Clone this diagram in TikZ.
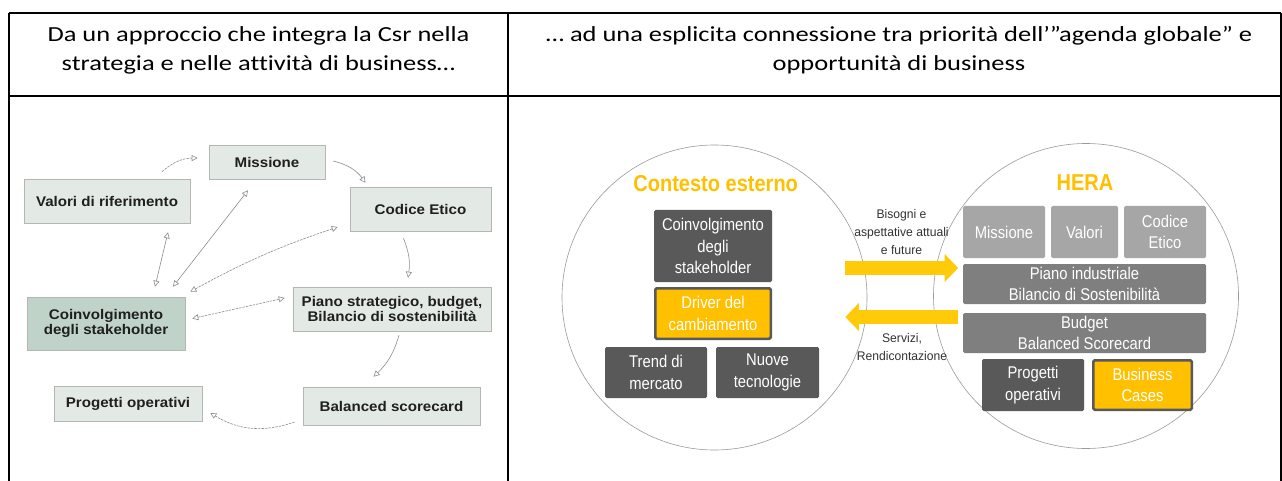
\documentclass[tikz,border=0pt]{standalone}
\usepackage{fontspec}
\setmainfont{Carlito}
\newfontfamily\hdrfont[FakeStretch=1.23,Ligatures=NoCommon]{Carlito}
\newfontfamily\lftfont[FakeStretch=1.08]{Liberation Sans}
\newfontfamily\rgtfont[FakeStretch=0.87]{Liberation Sans}
\newfontfamily\lblfont[FakeStretch=0.97]{Liberation Sans}
\usetikzlibrary{arrows.meta,shadows,calc}
\definecolor{orng}{HTML}{FFC000}
\definecolor{yarrow}{HTML}{FFCA08}
\definecolor{dgray}{HTML}{595959}
\definecolor{mgray}{HTML}{7F7F7F}
\definecolor{lgray}{HTML}{A6A6A6}
\definecolor{lboxfill}{HTML}{E3E9E4}
\definecolor{lboxdark}{HTML}{C0D3C8}
\definecolor{lboxline}{HTML}{B3B6B3}
\definecolor{larrcol}{HTML}{8C8C8C}
\definecolor{circcol}{HTML}{9A9A9A}
\tikzset{
  ohead/.tip={Triangle[open,length=6pt,width=6pt]},
  tbl/.style={line width=1.6pt, black},
  hdr/.style={align=center, font=\hdrfont\fontsize{21.5}{29}\selectfont, inner sep=0pt},
  lbox/.style={draw=lboxline, fill=lboxfill, line width=0.6pt, align=center,
    font=\lftfont\bfseries\fontsize{14}{15.5}\selectfont, text=black!88, inner sep=0pt,
    drop shadow={shadow xshift=1.2pt, shadow yshift=-1.2pt, fill=black!30, opacity=0.6}},
  larr/.style={draw=larrcol, line width=0.6pt, -ohead},
  larrb/.style={draw=larrcol, line width=0.6pt, ohead-ohead},
  fine/.style={dash pattern=on 2.5pt off 1pt},
  circ/.style={circle, draw=circcol, line width=0.6pt, inner sep=0pt, minimum size=305pt},
  ttl/.style={font=\rgtfont\bfseries\fontsize{23}{26}\selectfont, text=orng, inner sep=0pt},
  rbox/.style={rounded corners=1.5pt, inner sep=0pt, align=center, text=white,
    font=\rgtfont\fontsize{17}{21.5}\selectfont},
  obox/.style={rbox, fill=orng, draw=dgray, line width=2.5pt},
  lbl/.style={font=\lblfont\fontsize{12.5}{18}\selectfont, text=black!80, align=center, inner sep=0pt},
  fatarr/.style={yarrow, line width=13.5pt, -{Triangle[length=13.5pt,width=27pt]}}
}
\begin{document}
\begin{tikzpicture}[x=1pt,y=1pt]
\useasboundingbox (0,0) rectangle (1282,-481);
\fill[white] (0,0) rectangle (1282,-481);
% table
\draw[tbl] (9,-13) -- (1281,-13);
\draw[tbl] (9,-96) -- (1281,-96);
\draw[tbl] (9,-13) -- (9,-482);
\draw[tbl] (508,-13) -- (508,-482);
\draw[tbl] (1281,-13) -- (1281,-482);
\node[hdr] (hl) at (258.5,-50) {Da un approccio che integra la Csr nella\\strategia e nelle attività di business…};
\node[hdr] (hr) at (899,-50) {… ad una esplicita connessione tra priorità dell’”agenda globale” e\\opportunità di business};
% left diagram
\node[lbox, minimum width=166pt, minimum height=44pt] (valori) at (107,-201) {Valori di riferimento};
\node[lbox, minimum width=116pt, minimum height=34pt] (missione) at (267,-162) {Missione};
\node[lbox, minimum width=141pt, minimum height=44pt] (codice) at (420.5,-209) {Codice Etico};
\node[lbox, fill=lboxdark, minimum width=158pt, minimum height=53pt] (coinv) at (106,-323.5) {Coinvolgimento\\degli stakeholder};
\node[lbox, minimum width=198pt, minimum height=44pt] (piano) at (392,-309) {Piano strategico, budget,\\Bilancio di sostenibilità};
\node[lbox, minimum width=148pt, minimum height=35pt] (progetti) at (128,-403.5) {Progetti operativi};
\node[lbox, minimum width=177pt, minimum height=38pt] (balanced) at (391.5,-406) {Balanced scorecard};
\draw[larr, fine] ([xshift=55pt,yshift=7pt]valori.north) to[bend left=20] ([xshift=-11pt,yshift=4pt]missione.west);
\draw[larr] ([xshift=8pt,yshift=1pt]missione.east) to[bend left=20] ([xshift=-55pt,yshift=4pt]codice.north);
\draw[larr] ([xshift=-17pt,yshift=-7pt]codice.south) to[bend left=15] ([xshift=16pt,yshift=9pt]piano.north);
\draw[larr] ([xshift=7pt,yshift=-4pt]piano.south) to[bend left=15] ([xshift=-18pt,yshift=10pt]balanced.north);
\draw[larr, fine] ([xshift=-8pt,yshift=-16pt]balanced.west) to[bend left=25] ([xshift=8pt,yshift=-9.5pt]progetti.east);
\draw[larrb, fine] ([xshift=7pt,yshift=5pt]coinv.east) -- ([xshift=-8pt,yshift=11pt]piano.west);
\draw[larrb] ([xshift=61pt,yshift=-9pt]valori.south) -- ([xshift=49pt,yshift=10pt]coinv.north);
\draw[larrb] ([xshift=67pt,yshift=10pt]coinv.north) -- ([xshift=-19pt,yshift=-11pt]missione.south);
\draw[larrb, fine] ([xshift=5pt,yshift=5pt]coinv.north east) to[bend left=5] ([xshift=-12pt,yshift=-18pt]codice.west);
% right diagram
\node[circ] (ctx) at (714.5,-297.5) {};
\node[circ] (hera) at (1086,-296) {};
\node[ttl] (ctxt) at (715.7,-183.3) {Contesto esterno};
\node[ttl] (herat) at (1085,-183) {HERA};
\node[rbox, fill=dgray, minimum width=118pt, minimum height=72pt] (coinvs) at (713,-246) {Coinvolgimento\\degli\\stakeholder};
\node[obox, minimum width=115.5pt, minimum height=50.5pt] (driver) at (713,-313.5) {Driver del\\cambiamento};
\node[rbox, fill=dgray, minimum width=102pt, minimum height=51pt] (trend) at (656,-372.5) {Trend di\\mercato};
\node[rbox, fill=dgray, minimum width=103pt, minimum height=51pt] (nuove) at (767.5,-372.5) {Nuove\\tecnologie};
\node[rbox, fill=lgray, minimum width=82pt, minimum height=52pt] (missr) at (1004,-232) {Missione};
\node[rbox, fill=lgray, minimum width=67pt, minimum height=52pt] (valorir) at (1084.5,-232) {Valori};
\node[rbox, fill=lgray, minimum width=82pt, minimum height=52pt] (codicer) at (1165,-232) {Codice\\Etico};
\node[rbox, fill=mgray, minimum width=243pt, minimum height=40pt] (pianor) at (1084.5,-284) {Piano industriale\\Bilancio di Sostenibilità};
\node[rbox, fill=mgray, minimum width=243pt, minimum height=40pt] (budgetr) at (1084.5,-333) {Budget\\Balanced Scorecard};
\node[rbox, fill=dgray, minimum width=102pt, minimum height=52pt] (progr) at (1033,-385) {Progetti\\operativi};
\node[obox, minimum width=98.5pt, minimum height=49.5pt] (bizr) at (1142.5,-385) {Business\\Cases};
\draw[fatarr] ([xshift=-22pt,yshift=29.5pt]ctx.east) -- ([xshift=25pt,yshift=28pt]hera.west);
\draw[fatarr] ([xshift=25pt,yshift=-21pt]hera.west) -- ([xshift=-22pt,yshift=-19.5pt]ctx.east);
\node[lbl] (bis) at (901.5,-232) {Bisogni e\\aspettative attuali\\e future};
\node[lbl] (serv) at (902,-347) {Servizi,\\Rendicontazione};
\end{tikzpicture}
\end{document}
